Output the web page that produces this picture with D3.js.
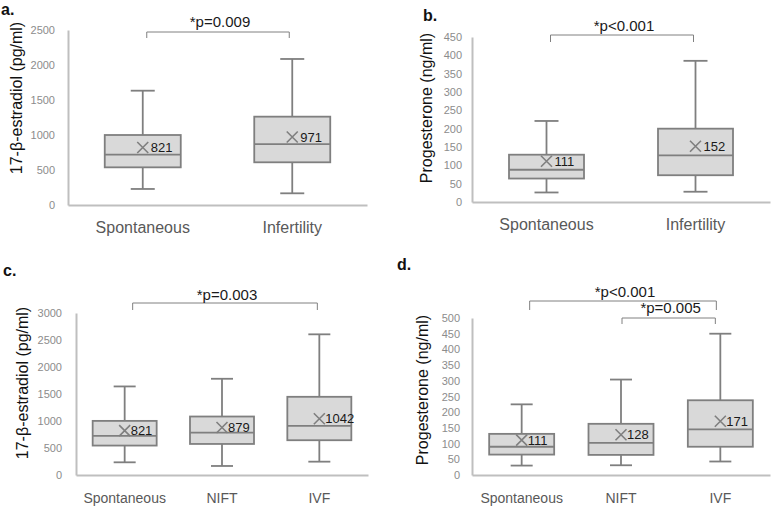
<!DOCTYPE html>
<html>
<head>
<meta charset="utf-8">
<script src="https://cdn.jsdelivr.net/npm/d3@7"></script>
<style>
  html, body { margin: 0; padding: 0; background: #fff; }
  svg { display: block; font-family: "Liberation Sans", Arial, sans-serif; }
</style>
</head>
<body>
<svg id="chart" width="773" height="509"></svg>
<script>
// ---------- Data ----------
// Panel a: 17-β-estradiol, Spontaneous vs Infertility
const aCategories = ["Spontaneous", "Infertility"];
const aLow    = [229, 167];
const aQ1     = [538, 610];
const aMedian = [719, 871];
const aQ3     = [1000, 1262];
const aHigh   = [1633, 2086];
const aMean   = [821, 971];
const aTicks  = [0, 500, 1000, 1500, 2000, 2500];

// Panel b: Progesterone, Spontaneous vs Infertility
const bCategories = ["Spontaneous", "Infertility"];
const bLow    = [26, 28];
const bQ1     = [64, 73];
const bMedian = [88, 127];
const bQ3     = [129, 200];
const bHigh   = [221, 385];
const bMean   = [111, 152];
const bTicks  = [0, 50, 100, 150, 200, 250, 300, 350, 400, 450];

// Panel c: 17-β-estradiol, Spontaneous / NIFT / IVF
const cCategories = ["Spontaneous", "NIFT", "IVF"];
const cLow    = [235, 167, 247];
const cQ1     = [545, 575, 644];
const cMedian = [724, 786, 910];
const cQ3     = [1002, 1083, 1448];
const cHigh   = [1640, 1782, 2605];
const cMean   = [821, 879, 1042];
const cTicks  = [0, 500, 1000, 1500, 2000, 2500, 3000];

// Panel d: Progesterone, Spontaneous / NIFT / IVF
const dCategories = ["Spontaneous", "NIFT", "IVF"];
const dLow    = [30, 31, 43];
const dQ1     = [65, 64, 90];
const dMedian = [90, 102, 145];
const dQ3     = [131, 163, 238];
const dHigh   = [225, 304, 450];
const dMean   = [111, 128, 171];
const dTicks  = [0, 50, 100, 150, 200, 250, 300, 350, 400, 450, 500];

// Significance annotations
const aSig = [{ from: "Spontaneous", to: "Infertility", label: "*p=0.009" }];
const bSig = [{ from: "Spontaneous", to: "Infertility", label: "*p<0.001" }];
const cSig = [{ from: "Spontaneous", to: "IVF", label: "*p=0.003" }];
const dSig = [
  { from: "Spontaneous", to: "IVF", label: "*p<0.001" },
  { from: "NIFT", to: "IVF", label: "*p=0.005" }
];

function rows(cats, low, q1, med, q3, high, mean) {
  return cats.map((c, i) => ({ cat: c, low: low[i], q1: q1[i], med: med[i], q3: q3[i], high: high[i], mean: mean[i] }));
}

// ---------- Layout (styles / positions) ----------
const panels = [
  { letter: "a.", lx: 1, ly: 15, title: "17-β-estradiol (pg/ml)", tx: 22, ty: 98,
    data: rows(aCategories, aLow, aQ1, aMedian, aQ3, aHigh, aMean), cats: aCategories, ticks: aTicks,
    x0: 68, x1: 367, y0: 205, yTop: 30, boxW: 76, capW: 24, tickPad: 13, catY: 233, catFont: 16, meanDx: 8,
    sig: aSig, brackets: [{ top: 32, bot: 38, textY: 27, dl: 4, dr: -3 }] },
  { letter: "b.", lx: 423, ly: 21, title: "Progesterone (ng/ml)", tx: 432, ty: 108,
    data: rows(bCategories, bLow, bQ1, bMedian, bQ3, bHigh, bMean), cats: bCategories, ticks: bTicks,
    x0: 472, x1: 770, y0: 202, yTop: 37, boxW: 75, capW: 24, tickPad: 10, catY: 230, catFont: 16, meanDx: 8,
    sig: bSig, brackets: [{ top: 35, bot: 42, textY: 31, dl: 4, dr: -2 }] },
  { letter: "c.", lx: 3, ly: 276, title: "17-β-estradiol (pg/ml)", tx: 28, ty: 383,
    data: rows(cCategories, cLow, cQ1, cMedian, cQ3, cHigh, cMean), cats: cCategories, ticks: cTicks,
    x0: 76, x1: 368, y0: 475, yTop: 313, boxW: 64, capW: 22, tickPad: 14, catY: 503, catFont: 14, meanDx: 6,
    sig: cSig, brackets: [{ top: 303, bot: 310, textY: 300, dl: 8, dr: -2 }] },
  { letter: "d.", lx: 397, ly: 270, title: "Progesterone (ng/ml)", tx: 428, ty: 390,
    data: rows(dCategories, dLow, dQ1, dMedian, dQ3, dHigh, dMean), cats: dCategories, ticks: dTicks,
    x0: 472, x1: 770, y0: 475, yTop: 318, boxW: 65, capW: 22, tickPad: 12, catY: 503, catFont: 14, meanDx: 6,
    sig: dSig, brackets: [{ top: 301, bot: 310, textY: 297, dl: 8, dr: -4 }, { top: 318, bot: 324, textY: 313, dl: 1, dr: -5 }] }
];

const boxStroke = "#7f7f7f";
const boxFill = "#d9d9d9";
const axisColor = "#bfbfbf";
const tickColor = "#8c8c8c";
const catColor = "#595959";

const svg = d3.select("#chart");

panels.forEach(p => {
  const g = svg.append("g");
  const x = d3.scaleBand().domain(p.cats).range([p.x0, p.x1]).padding(0);
  const y = d3.scaleLinear().domain([0, p.ticks[p.ticks.length - 1]]).range([p.y0, p.yTop]);
  const cx = c => x(c) + x.bandwidth() / 2;

  // Y axis
  const yAxis = d3.axisLeft(y).tickValues(p.ticks).tickSize(0).tickPadding(p.tickPad).tickFormat(d3.format("d"));
  const ya = g.append("g").attr("transform", `translate(${p.x0},0)`).call(yAxis);
  ya.select(".domain").attr("stroke", axisColor).attr("stroke-width", 2);
  ya.selectAll("text").attr("fill", tickColor).attr("font-size", 11).attr("font-family", "Liberation Sans, Arial, sans-serif");

  // X axis
  const xAxis = d3.axisBottom(x).tickSize(0).tickPadding(0);
  const xa = g.append("g").attr("transform", `translate(0,${p.y0})`).call(xAxis);
  xa.select(".domain").attr("stroke", axisColor).attr("stroke-width", 2);
  xa.selectAll("text").attr("fill", catColor).attr("font-size", p.catFont)
    .attr("font-family", "Liberation Sans, Arial, sans-serif")
    .attr("dy", null).attr("y", p.catY - p.y0);

  // Boxes
  const box = g.selectAll(".bx").data(p.data).enter().append("g");
  box.append("line").attr("x1", d => cx(d.cat)).attr("x2", d => cx(d.cat))
    .attr("y1", d => y(d.high)).attr("y2", d => y(d.q3)).attr("stroke", boxStroke).attr("stroke-width", 1.8);
  box.append("line").attr("x1", d => cx(d.cat)).attr("x2", d => cx(d.cat))
    .attr("y1", d => y(d.q1)).attr("y2", d => y(d.low)).attr("stroke", boxStroke).attr("stroke-width", 1.8);
  box.append("line").attr("x1", d => cx(d.cat) - p.capW / 2).attr("x2", d => cx(d.cat) + p.capW / 2)
    .attr("y1", d => y(d.high)).attr("y2", d => y(d.high)).attr("stroke", boxStroke).attr("stroke-width", 1.8);
  box.append("line").attr("x1", d => cx(d.cat) - p.capW / 2).attr("x2", d => cx(d.cat) + p.capW / 2)
    .attr("y1", d => y(d.low)).attr("y2", d => y(d.low)).attr("stroke", boxStroke).attr("stroke-width", 1.8);
  box.append("rect").attr("x", d => cx(d.cat) - p.boxW / 2).attr("width", p.boxW)
    .attr("y", d => y(d.q3)).attr("height", d => y(d.q1) - y(d.q3))
    .attr("fill", boxFill).attr("stroke", boxStroke).attr("stroke-width", 1.8);
  box.append("line").attr("x1", d => cx(d.cat) - p.boxW / 2).attr("x2", d => cx(d.cat) + p.boxW / 2)
    .attr("y1", d => y(d.med)).attr("y2", d => y(d.med)).attr("stroke", boxStroke).attr("stroke-width", 1.8);
  const s = 5.5;
  box.append("path").attr("d", d => {
      const mx = cx(d.cat), my = y(d.mean);
      return `M${mx - s},${my - s}L${mx + s},${my + s}M${mx - s},${my + s}L${mx + s},${my - s}`;
    }).attr("stroke", boxStroke).attr("stroke-width", 1.6).attr("fill", "none");
  box.append("text").attr("x", d => cx(d.cat) + p.meanDx).attr("y", d => y(d.mean) + 4.5)
    .attr("font-size", 13).attr("fill", "#1a1a1a").text(d => d.mean);

  // Y title
  g.append("text").attr("transform", `translate(${p.tx},${p.ty}) rotate(-90)`)
    .attr("text-anchor", "middle").attr("font-size", 16).attr("fill", "#111").text(p.title);

  // Panel letter
  g.append("text").attr("x", p.lx).attr("y", p.ly).attr("font-size", 16).attr("font-weight", "bold")
    .attr("fill", "#111").text(p.letter);

  // Significance brackets
  p.sig.forEach((sg, i) => {
    const b = p.brackets[i];
    const xl = cx(sg.from) + b.dl, xr = cx(sg.to) + b.dr;
    g.append("path").attr("d", `M${xl},${b.bot}V${b.top}H${xr}V${b.bot}`)
      .attr("fill", "none").attr("stroke", "#808080").attr("stroke-width", 1);
    g.append("text").attr("x", (xl + xr) / 2 + 2).attr("y", b.textY).attr("text-anchor", "middle")
      .attr("font-size", 15).attr("fill", "#1a1a1a").text(sg.label);
  });
});
</script>
</body>
</html>
